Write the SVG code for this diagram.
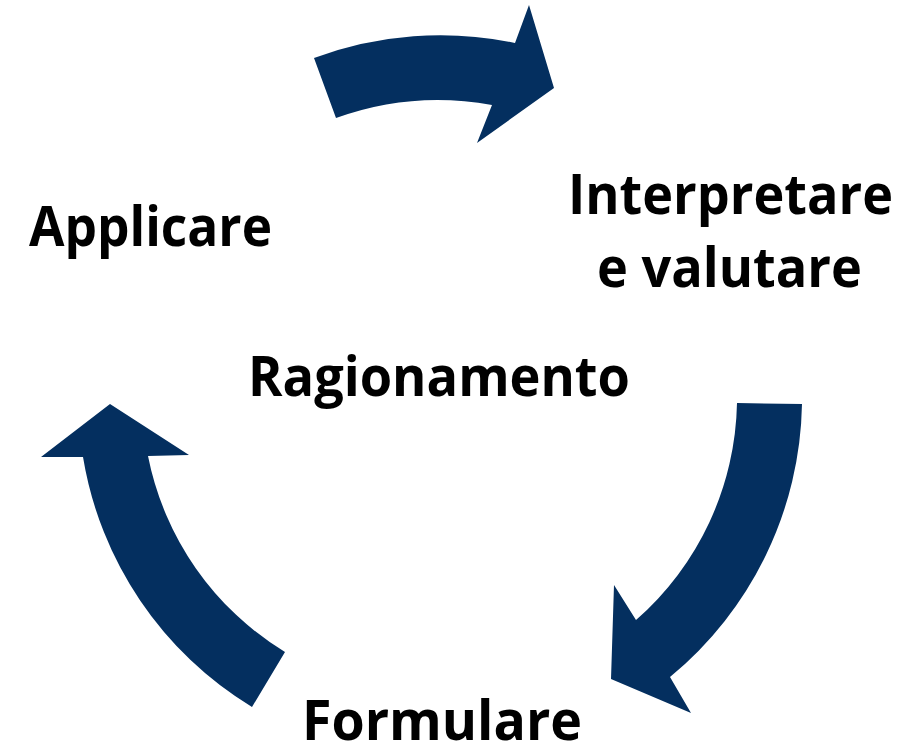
<svg xmlns="http://www.w3.org/2000/svg" width="916" height="756" viewBox="0 0 916 756">
<style>
.arrow{fill:#042F5F;stroke:none}
.lbl{font-family:"Open Sans","Liberation Sans",sans-serif;font-weight:700;font-size:56px;fill:#000}
</style>
<rect width="916" height="756" fill="#fff"/>
<g id="connectors">
<path class="arrow" d="M314,58 A363,363 0 0 1 515,43 L529,5 L554,88 L477,143 L492,105 A299,299 0 0 0 336,118 Z"/>
<path class="arrow" d="M802,404 A362,362 0 0 1 670,677 L691,713 L611,679 L614,585 L636,620 A296,296 0 0 0 737,403 Z"/>
<path class="arrow" d="M252,707 A361,361 0 0 1 83,457 L41,457 L110,404 L189,455 L148,456 A297,297 0 0 0 285,652 Z"/>
</g>
<g id="node-interpretare">
<text class="lbl" x="568" y="214" textLength="325" lengthAdjust="spacingAndGlyphs">Interpretare</text>
<text class="lbl" x="597" y="287" textLength="265" lengthAdjust="spacingAndGlyphs">e valutare</text>
</g>
<g id="node-applicare">
<text class="lbl" x="29" y="246" textLength="243" lengthAdjust="spacingAndGlyphs">Applicare</text>
</g>
<g id="node-ragionamento">
<text class="lbl" x="248" y="396" textLength="382" lengthAdjust="spacingAndGlyphs">Ragionamento</text>
</g>
<g id="node-formulare">
<text class="lbl" x="302" y="740" textLength="280" lengthAdjust="spacingAndGlyphs">Formulare</text>
</g>
</svg>
